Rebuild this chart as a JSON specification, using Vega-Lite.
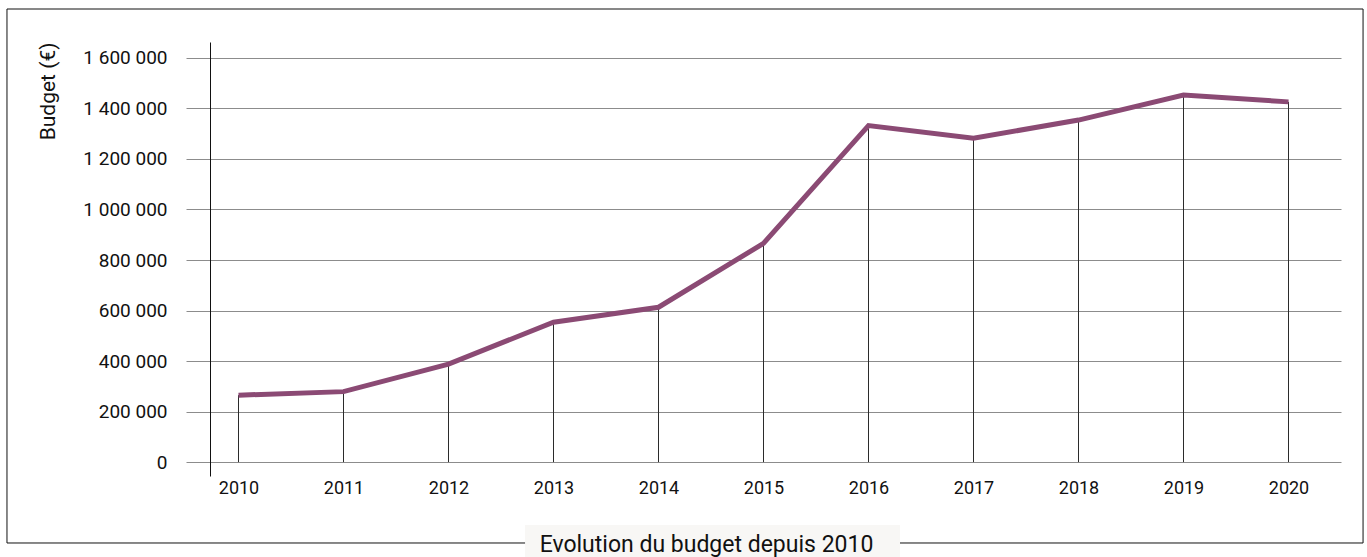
{
  "$schema": "https://vega.github.io/schema/vega-lite/v6.json",
  "width": 1155,
  "height": 434,
  "autosize": "none",
  "padding": {"left": 186, "top": 42, "right": 26, "bottom": 81},
  "background": "#ffffff",
  "title": {
    "text": "Evolution du budget depuis 2010",
    "orient": "bottom",
    "anchor": "middle",
    "frame": "group",
    "offset": -23,
    "baseline": "top",
    "dx": -57,
    "font": "Roboto",
    "fontSize": 23,
    "fontWeight": "normal",
    "color": "#111111"
  },
  "data": {
    "values": [
      {"year": 2010, "budget": 265000},
      {"year": 2011, "budget": 279000},
      {"year": 2012, "budget": 388000},
      {"year": 2013, "budget": 554000},
      {"year": 2014, "budget": 613000},
      {"year": 2015, "budget": 866000},
      {"year": 2016, "budget": 1332000},
      {"year": 2017, "budget": 1282000},
      {"year": 2018, "budget": 1354000},
      {"year": 2019, "budget": 1453000},
      {"year": 2020, "budget": 1426000}
    ]
  },
  "layer": [
    {
      "mark": {"type": "rule", "color": "#2b2b2b", "strokeWidth": 1},
      "encoding": {
        "x": {
          "field": "year",
          "type": "quantitative",
          "scale": {"domain": [2009.5, 2020.5], "nice": false, "zero": false},
          "axis": {
            "title": null,
            "values": [2010, 2011, 2012, 2013, 2014, 2015, 2016, 2017, 2018, 2019, 2020],
            "format": "d",
            "domain": false,
            "ticks": false,
            "tickSize": 0,
            "grid": false,
            "labelPadding": 3,
            "labelFlush": false,
            "labelFont": "Roboto",
            "labelFontSize": 18,
            "labelColor": "#111111"
          }
        },
        "y": {
          "field": "budget",
          "type": "quantitative",
          "scale": {"domain": [-55000, 1663000], "nice": false, "zero": false},
          "axis": {
            "title": "Budget (€)",
            "titleAnchor": "end",
            "titlePadding": 24,
            "titleFont": "Roboto",
            "titleFontSize": 21,
            "titleFontWeight": "normal",
            "titleColor": "#111111",
            "values": [0, 200000, 400000, 600000, 800000, 1000000, 1200000, 1400000, 1600000],
            "labelExpr": "replace(format(datum.value, ','), regexp(',', 'g'), ' ')",
            "offset": -24,
            "domain": true,
            "domainColor": "#111111",
            "domainWidth": 1,
            "ticks": false,
            "tickSize": 0,
            "labelPadding": 43,
            "labelFont": "Roboto",
            "labelFontSize": 19,
            "labelColor": "#111111",
            "grid": true,
            "gridColor": "#8c8c8c",
            "gridWidth": 1
          }
        },
        "y2": {"datum": 0}
      }
    },
    {
      "mark": {"type": "line", "color": "#8b4a74", "strokeWidth": 5, "strokeJoin": "miter"},
      "encoding": {
        "x": {"field": "year", "type": "quantitative"},
        "y": {"field": "budget", "type": "quantitative"}
      }
    },
    {
      "data": {"values": [{"frame": "border"}]},
      "mark": {"type": "rect", "fill": "transparent", "stroke": "#111111", "strokeWidth": 1},
      "encoding": {
        "x": {"datum": 2007.795, "type": "quantitative"},
        "x2": {"datum": 2020.71},
        "y": {"datum": 1793600, "type": "quantitative"},
        "y2": {"datum": -320200}
      }
    },
    {
      "data": {"values": [{"frame": "titlebox"}]},
      "mark": {"type": "rect", "fill": "#f8f7f5", "strokeWidth": 0},
      "encoding": {
        "x": {"datum": 2012.729, "type": "quantitative"},
        "x2": {"datum": 2016.3},
        "y": {"datum": -248960, "type": "quantitative"},
        "y2": {"datum": -375630}
      }
    }
  ],
  "config": {
    "view": {"stroke": null}
  }
}
